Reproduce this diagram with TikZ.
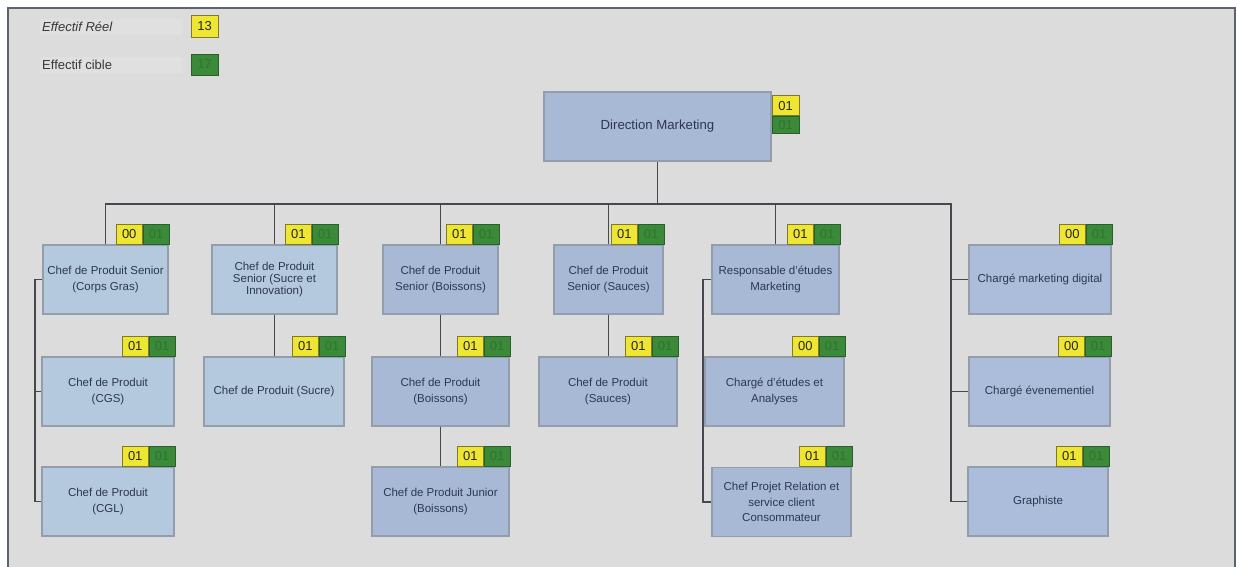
\documentclass[tikz,border=0pt]{standalone}
\usepackage{fontspec}
\setmainfont{Liberation Sans}
\definecolor{bg}{HTML}{DCDCDC}
\definecolor{band}{HTML}{E0E0E0}
\definecolor{framec}{HTML}{5C6272}
\definecolor{boxline}{HTML}{949DAB}
\definecolor{ink}{HTML}{2C3850}
\definecolor{paleblue}{RGB}{180,200,222}
\definecolor{lavender}{RGB}{168,185,214}
\definecolor{skyblue}{RGB}{172,189,219}
\definecolor{yel}{HTML}{EEE633}
\definecolor{yelline}{HTML}{7F7A2A}
\definecolor{grn}{HTML}{3A8A3A}
\definecolor{grnline}{HTML}{2A5E2A}
\definecolor{grnink}{HTML}{2F7430}
\definecolor{wire}{HTML}{45484E}
\tikzset{
  post/.style={draw=boxline, line width=1.3pt, fill=lavender, text=ink,
    font=\fontsize{11.5}{15.5}\selectfont, align=center, inner sep=0pt,
    minimum height=69pt},
  ybadge/.style={draw=yelline, line width=0.8pt, fill=yel, text=black!85,
    font=\fontsize{13}{13}\selectfont, minimum width=26pt, minimum height=20pt,
    inner sep=0pt},
  gbadge/.style={draw=grnline, line width=0.8pt, fill=grn, text=grnink,
    font=\fontsize{13}{13}\selectfont, minimum width=26pt, minimum height=20pt,
    inner sep=0pt},
  legtext/.style={text=black!78, font=\fontsize{13}{13}\selectfont, inner sep=0pt},
  link/.style={draw=wire, line width=1.3pt},
}
% yellow (actual) and green (target) headcount tags on top of a post
\newcommand\tally[3]{%
  \node[ybadge, anchor=south east] (#1-y) at ([xshift=-26pt]#1.north east) {#2};
  \node[gbadge, anchor=south west] (#1-g) at (#1-y.south east) {#3};}
\begin{document}
\begin{tikzpicture}[x=1pt, y=-1pt]
\useasboundingbox (0,0) rectangle (1237,567);
\fill[white] (0,0) rectangle (1237,567);
\fill[bg] (8,8) rectangle (1235,567);
\draw[framec, line width=2pt] (8,567) -- (8,8) -- (1235,8) -- (1235,567);

% legend
\fill[band] (40,19) rectangle (182,35);
\fill[band] (40,57) rectangle (182,73);
\node[legtext, anchor=west] (leg-r) at (42,27) {\itshape Effectif Réel};
\node[legtext, anchor=west] (leg-c) at (42,65) {Effectif cible};
\node[ybadge, minimum width=27pt, minimum height=22pt] (leg-y) at (204.5,26) {13};
\node[gbadge, minimum width=27pt, minimum height=21pt] (leg-g) at (204.5,64.5) {17};

% head of department
\node[post, minimum width=227pt, font=\fontsize{13.2}{15.5}\selectfont] (dm) at (657.5,126.5) {Direction Marketing};
\node[ybadge, anchor=north west, minimum width=27pt] (dm-y) at ([yshift=-4pt]dm.north east) {01};
\node[gbadge, anchor=north, minimum width=27pt, minimum height=17pt] (dm-g) at (dm-y.south) {01};

% first level
\node[post, fill=paleblue, minimum width=125pt] (c1) at (105.5,279.5) {Chef de Produit Senior\\(Corps Gras)};
\node[post, fill=paleblue, minimum width=125pt, font=\fontsize{11.5}{12}\selectfont] (c2) at (274.5,279.5) {Chef de Produit\\Senior (Sucre et\\Innovation)};
\node[post, minimum width=115pt] (c3) at (440.5,279.5) {Chef de Produit\\Senior (Boissons)};
\node[post, minimum width=109pt] (c4) at (608.5,279.5) {Chef de Produit\\Senior (Sauces)};
\node[post, minimum width=127pt] (c5) at (775.5,279.5) {Responsable d'études\\Marketing};
\node[post, fill=skyblue, minimum width=142pt] (c6) at (1040,279.5) {Chargé marketing digital};

% second level
\node[post, fill=paleblue, minimum width=132pt] (c1b) at (108,391.5) {Chef de Produit\\(CGS)};
\node[post, fill=paleblue, minimum width=140pt] (c2b) at (274,391.5) {Chef de Produit (Sucre)};
\node[post, minimum width=137pt] (c3b) at (440.5,391.5) {Chef de Produit\\(Boissons)};
\node[post, minimum width=138pt] (c4b) at (608,391.5) {Chef de Produit\\(Sauces)};
\node[post, minimum width=139pt] (c5b) at (774.5,391.5) {Chargé d'études et\\Analyses};
\node[post, fill=skyblue, minimum width=141pt] (c6b) at (1039.5,391.5) {Chargé évenementiel};

% third level
\node[post, fill=paleblue, minimum width=132pt] (c1c) at (108,501.5) {Chef de Produit\\(CGL)};
\node[post, minimum width=137pt] (c3c) at (440.5,501.5) {Chef de Produit Junior\\(Boissons)};
\node[post, minimum width=139pt] (c5c) at (781.5,502) {Chef Projet Relation et\\service client\\Consommateur};
\node[post, fill=skyblue, minimum width=140pt] (c6c) at (1038,501.5) {Graphiste};

% headcount tags
\tally{c1}{00}{01}
\tally{c2}{01}{01}
\tally{c3}{01}{01}
\tally{c4}{01}{01}
\tally{c5}{01}{01}
\tally{c6}{00}{01}
\tally{c1b}{01}{01}
\tally{c2b}{01}{01}
\tally{c3b}{01}{01}
\tally{c4b}{01}{01}
\tally{c5b}{00}{01}
\tally{c6b}{00}{01}
\tally{c1c}{01}{01}
\tally{c3c}{01}{01}
\tally{c5c}{01}{01}
\tally{c6c}{01}{01}

% reporting lines
\coordinate (busE) at (951,204);
\coordinate (sp1) at (35,0);
\coordinate (sp5) at (703,0);
\draw[link] (dm.south) -- (dm.south |- busE);
\draw[link] (c1.north) |- (busE) |- (c6c.west);
\draw[link] (c2.north) -- (c2.north |- busE);
\draw[link] (c3.north) -- (c3.north |- busE);
\draw[link] (c4.north) -- (c4.north |- busE);
\draw[link] (c5.north) -- (c5.north |- busE);
\draw[link] (c6.west) -- (c6.west -| busE);
\draw[link] (c6b.west) -- (c6b.west -| busE);
\draw[link] (c1.west) -- (c1.west -| sp1) |- (c1c.west);
\draw[link] (c1b.west) -- (c1b.west -| sp1);
\draw[link] (c2.south) -- (c2.south |- c2b.north);
\draw[link] (c3.south) -- (c3.south |- c3b.north);
\draw[link] (c3b.south) -- (c3b.south |- c3c.north);
\draw[link] (c4.south) -- (c4.south |- c4b.north);
\draw[link] (c5.west) -- (c5.west -| sp5) |- (c5c.west);
\draw[link] (c5b.west) -- (c5b.west -| sp5);
\end{tikzpicture}
\end{document}
